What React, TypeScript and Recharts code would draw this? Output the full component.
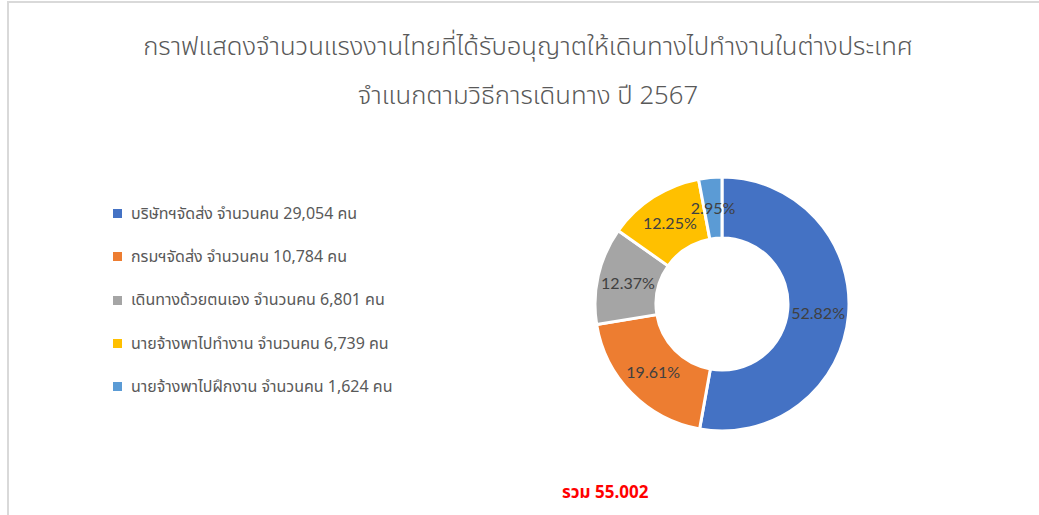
import { PieChart, Pie, Cell, Legend } from 'recharts'

const categories = [
  'บริษัทฯจัดส่ง',
  'กรมฯจัดส่ง',
  'เดินทางด้วยตนเอง',
  'นายจ้างพาไปทำงาน',
  'นายจ้างพาไปฝึกงาน',
]
const workers = [29054, 10784, 6801, 6739, 1624]
const colors = ['#4472C4', '#ED7D31', '#A5A5A5', '#FFC000', '#5B9BD5']
const titleLines = [
  'กราฟแสดงจำนวนแรงงานไทยที่ได้รับอนุญาตให้เดินทางไปทำงานในต่างประเทศ',
  'จำแนกตามวิธีการเดินทาง ปี 2567',
]
const totalLabel = 'รวม 55.002'

const total = workers.reduce((s, v) => s + v, 0)
const data = categories.map((c, i) => ({
  name: `${c} จำนวนคน ${workers[i].toLocaleString('en-US')} คน`,
  value: workers[i],
}))

const thaiFont = "Tahoma, 'Noto Sans Thai', 'Noto Sans', 'DejaVu Sans', sans-serif"
const RAD = Math.PI / 180

const renderLabel = (p: any) => {
  const r = (p.innerRadius + p.outerRadius) / 2
  const x = p.cx + r * Math.cos(-p.midAngle * RAD)
  const y = p.cy + r * Math.sin(-p.midAngle * RAD)
  return (
    <text
      x={x}
      y={y}
      fill="#404040"
      fontSize={16}
      fontFamily="Lato, 'Open Sans', sans-serif"
      textAnchor="middle"
      dominantBaseline="central"
    >
      {((p.value / total) * 100).toFixed(2)}%
    </text>
  )
}

// legend keeps the data order (Recharts would sort it otherwise)
const renderLegend = () => (
  <div>
    {data.map((d, i) => (
      <div
        key={d.name}
        style={{ display: 'flex', alignItems: 'center', height: 43.3 }}
      >
        <span
          style={{
            width: 9,
            height: 9,
            background: colors[i],
            marginRight: 9,
            display: 'inline-block',
          }}
        />
        <span style={{ fontSize: 16, color: '#595959', fontFamily: thaiFont }}>
          {d.name}
        </span>
      </div>
    ))}
  </div>
)

export default function App() {
  return (
    <div
      style={{
        position: 'absolute',
        left: 0,
        top: 0,
        width: 1039,
        height: 515,
        overflow: 'hidden',
        background: '#fff',
      }}
    >
      <div
        style={{
          position: 'absolute',
          left: 7,
          top: 1,
          width: 1100,
          height: 600,
          borderTop: '2px solid #d9d9d9',
          borderLeft: '2px solid #d9d9d9',
        }}
      />
      {titleLines.map((t, i) => (
        <div
          key={t}
          style={{
            position: 'absolute',
            left: 0,
            width: 1056,
            top: 31 + i * 49,
            textAlign: 'center',
            fontSize: 25.7,
            color: '#595959',
            fontFamily: thaiFont,
            fontWeight: 300,
            lineHeight: '34px',
          }}
        >
          {t}
        </div>
      ))}
      <PieChart
        width={1039}
        height={515}
        margin={{ top: 0, right: 0, bottom: 0, left: 0 }}
        style={{ position: 'absolute', left: 0, top: 0 }}
      >
        <Pie
          data={data}
          dataKey="value"
          nameKey="name"
          cx={722}
          cy={304}
          innerRadius={66}
          outerRadius={127}
          startAngle={90}
          endAngle={-270}
          stroke="#fff"
          strokeWidth={3}
          label={renderLabel}
          labelLine={false}
          isAnimationActive={false}
        >
          {data.map((d, i) => (
            <Cell key={d.name} fill={colors[i]} />
          ))}
        </Pie>
        <Legend
          layout="vertical"
          content={renderLegend}
          wrapperStyle={{ position: 'absolute', left: 113, top: 192, width: 420 }}
        />
      </PieChart>
      <div
        style={{
          position: 'absolute',
          left: 562,
          top: 480,
          fontSize: 17,
          color: '#FF0000',
          fontFamily: thaiFont,
          fontWeight: 'bold',
        }}
      >
        {totalLabel}
      </div>
    </div>
  )
}
